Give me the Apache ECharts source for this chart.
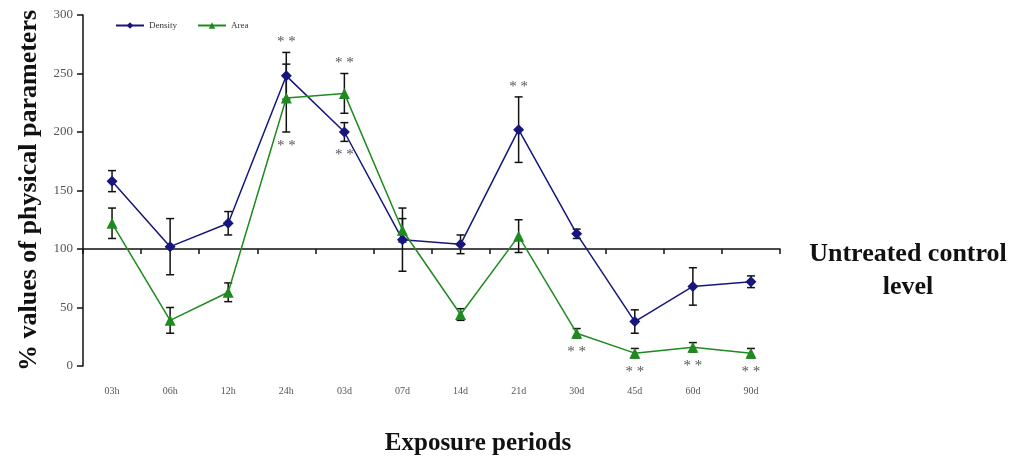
<!DOCTYPE html>
<html>
<head>
<meta charset="utf-8">
<script src="https://cdn.jsdelivr.net/npm/echarts@6/dist/echarts.min.js"></script>
<style>
html,body{margin:0;padding:0;background:#fff;}
#chart{width:1013px;height:461px;}
</style>
</head>
<body>
<div id="chart"></div>
<script>
const categories = ['03h','06h','12h','24h','03d','07d','14d','21d','30d','45d','60d','90d'];
const density    = [158, 102, 122, 248, 200, 108, 104, 202, 113, 38, 68, 72];
const densityErr = [9, 24, 10, 20, 8, 27, 8, 28, 4, 10, 16, 5];
const area       = [122, 39, 63, 229, 233, 116, 44, 111, 28, 11, 16, 11];
const areaErr    = [13, 11, 8, 29, 17, 10, 5, 14, 4, 4, 4, 4];
const densitySig = ['', '', '', 'above', 'below', '', '', 'above', '', '', '', ''];
const areaSig    = ['', '', '', 'below', 'above', '', '', '', 'below', 'below', 'below', 'below'];
const yMin = 0, yMax = 300, yStep = 50;
const controlLevel = 100;

const BLUE = '#16167c';
const GREEN = '#1f8a1f';
const SERIF = '"Liberation Serif", "DejaVu Serif", serif';

const gridTop = 15, gridBottom = 95;
const chartH = 461;
const plotH = chartH - gridTop - gridBottom;
const controlOffset = -(controlLevel - yMin) / (yMax - yMin) * plotH;

function errSeries(vals, errs, sig, name) {
  return {
    type: 'custom',
    name: name + ' err',
    xAxisIndex: 0,
    z: 1,
    silent: true,
    data: vals.map((v, i) => [i, v, errs[i], sig[i]]),
    renderItem: function (params, api) {
      const i = api.value(0), v = api.value(1), e = api.value(2);
      const s = sig[i];
      const x = api.coord([i, v])[0];
      const top = api.coord([i, v + e])[1];
      const bot = api.coord([i, v - e])[1];
      const st = { stroke: '#111', lineWidth: 1.5 };
      const children = [
        { type: 'line', shape: { x1: x, y1: top, x2: x, y2: bot }, style: st },
        { type: 'line', shape: { x1: x - 4, y1: top, x2: x + 4, y2: top }, style: st },
        { type: 'line', shape: { x1: x - 4, y1: bot, x2: x + 4, y2: bot }, style: st }
      ];
      if (s) {
        const ty = s === 'above' ? top - 10 : bot + 14;
        children.push({
          type: 'text',
          style: { text: '* *', x: x, y: ty, fill: '#555', font: '15px ' + SERIF, align: 'center', verticalAlign: 'middle' }
        });
      }
      return { type: 'group', children: children };
    }
  };
}

const chart = echarts.init(document.getElementById('chart'));
chart.setOption({
  animation: false,
  backgroundColor: '#fff',
  grid: { left: 83, right: 233, top: gridTop, bottom: gridBottom },
  legend: {
    left: 110, top: 16,
    itemWidth: 28, itemHeight: 8, itemGap: 20,
    textStyle: { fontFamily: SERIF, fontSize: 9, color: '#333' },
    data: ['Density', 'Area']
  },
  xAxis: [
    {
      type: 'category', data: categories, position: 'bottom', offset: controlOffset,
      boundaryGap: true,
      axisLine: { show: true, lineStyle: { color: '#111', width: 1.5 } },
      axisTick: { show: true, length: 5, lineStyle: { color: '#111', width: 1.5 } },
      axisLabel: { show: false }
    },
    {
      type: 'category', data: categories, position: 'bottom',
      axisLine: { show: false }, axisTick: { show: false },
      axisLabel: { show: true, margin: 20, fontFamily: SERIF, fontSize: 10, color: '#555' }
    }
  ],
  yAxis: {
    type: 'value', min: yMin, max: yMax, interval: yStep,
    axisLine: { show: true, lineStyle: { color: '#111', width: 1.5 } },
    axisTick: { show: true, length: 6, lineStyle: { color: '#111', width: 1.5 } },
    splitLine: { show: false },
    axisLabel: { fontFamily: SERIF, fontSize: 13, color: '#555', margin: 10 },
    name: '% values of physical parameters', nameLocation: 'middle', nameGap: 40,
    nameTextStyle: { fontFamily: SERIF, fontSize: 26, fontWeight: 'bold', color: '#111' }
  },
  graphic: [
    {
      type: 'text', x: 908, y: 254,
      style: { text: 'Untreated control', font: 'bold 26px ' + SERIF, fill: '#111', align: 'center', verticalAlign: 'middle' }
    },
    {
      type: 'text', x: 908, y: 287,
      style: { text: 'level', font: 'bold 26px ' + SERIF, fill: '#111', align: 'center', verticalAlign: 'middle' }
    },
    {
      type: 'text', x: 478, y: 444,
      style: { text: 'Exposure periods', font: 'bold 25px ' + SERIF, fill: '#111', align: 'center', verticalAlign: 'middle' }
    }
  ],
  series: [
    errSeries(density, densityErr, densitySig, 'Density'),
    errSeries(area, areaErr, areaSig, 'Area'),
    {
      name: 'Density', type: 'line', data: density, xAxisIndex: 0, z: 3,
      symbol: 'diamond', symbolSize: 11,
      lineStyle: { color: BLUE, width: 1.5 },
      itemStyle: { color: BLUE }
    },
    {
      name: 'Area', type: 'line', data: area, xAxisIndex: 0, z: 3,
      symbol: 'triangle', symbolSize: 11,
      lineStyle: { color: GREEN, width: 1.5 },
      itemStyle: { color: GREEN }
    }
  ]
});
</script>
</body>
</html>
